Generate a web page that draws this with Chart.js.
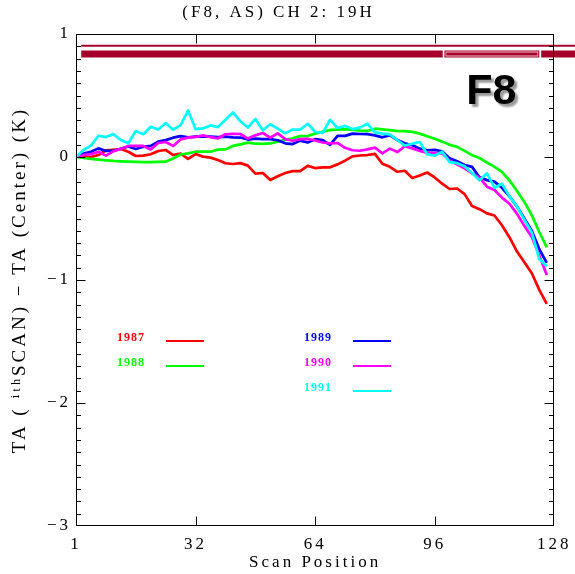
<!DOCTYPE html>
<html><head><meta charset="utf-8">
<script src="https://cdn.jsdelivr.net/npm/chart.js@4"></script>
<style>html,body{margin:0;padding:0;background:#fff;} canvas{display:block;}</style>
</head><body>
<canvas id="c" width="575" height="574"></canvas>
<script>
// ---- data ----
const scanPos = [0,2,4,6,8,10,12,14,16,18,20,22,24,26,28,30,32,34,36,38,40,42,44,46,48,50,52,54,56,58,60,62,
  64,66,68,70,72,74,76,78,80,82,84,86,88,90,92,94,96,98,100,102,104,106,108,110,112,114,116,118,120,122,124,126];
const ta1987 = [0,0.008,0,0.016,0.054,0.059,0.065,0.043,0.008,0.011,
  0.022,0.049,0.057,0.016,0.027,-0.016,0.024,0.003,-0.005,-0.024,
  -0.051,-0.057,-0.05,-0.07,-0.135,-0.13,-0.187,-0.157,-0.13,-0.115,
  -0.115,-0.072,-0.09,-0.084,-0.084,-0.06,-0.03,0.005,0.012,0.016,
  0.025,-0.055,-0.08,-0.12,-0.112,-0.17,-0.15,-0.126,-0.166,-0.217,
  -0.26,-0.256,-0.302,-0.398,-0.424,-0.458,-0.476,-0.555,-0.652,-0.767,
  -0.855,-0.945,-1.08,-1.195];
const ta1988 = [0,-0.008,-0.016,-0.022,-0.027,-0.032,-0.035,-0.038,-0.04,-0.041,
  -0.041,-0.04,-0.038,-0.012,0.02,0.03,0.043,0.043,0.043,0.06,
  0.062,0.09,0.103,0.117,0.108,0.107,0.11,0.125,0.14,0.152,
  0.17,0.17,0.19,0.205,0.22,0.222,0.226,0.22,0.214,0.212,
  0.23,0.224,0.218,0.21,0.21,0.204,0.19,0.168,0.148,0.125,
  0.1,0.082,0.05,0.015,-0.008,-0.045,-0.08,-0.12,-0.19,-0.275,
  -0.365,-0.475,-0.61,-0.734];
const ta1989 = [0,0.028,0.043,0.07,0.049,0.05,0.067,0.085,0.065,0.083,
  0.09,0.125,0.137,0.157,0.17,0.16,0.165,0.165,0.166,0.162,
  0.166,0.16,0.158,0.142,0.149,0.145,0.145,0.136,0.111,0.105,
  0.133,0.118,0.145,0.138,0.098,0.172,0.172,0.19,0.187,0.186,
  0.176,0.16,0.178,0.138,0.111,0.095,0.068,0.055,0.058,0.047,
  -0.011,-0.035,-0.065,-0.08,-0.165,-0.188,-0.2,-0.25,-0.32,-0.4,
  -0.5,-0.6,-0.75,-0.86];
const ta1990 = [0,0.016,0.023,0.043,0.011,0.046,0.066,0.09,0.09,0.09,
  0.061,0.114,0.122,0.09,0.143,0.157,0.163,0.176,0.161,0.152,
  0.185,0.189,0.187,0.15,0.176,0.195,0.157,0.192,0.145,0.132,
  0.145,0.147,0.134,0.118,0.111,0.114,0.075,0.055,0.051,0.062,
  0.076,0.03,0.068,0.04,0.087,0.07,0.049,0.034,0.032,0.03,
  -0.03,-0.06,-0.092,-0.133,-0.168,-0.241,-0.268,-0.33,-0.38,-0.46,
  -0.56,-0.65,-0.8,-0.96];
const ta1991 = [0,0.057,0.092,0.173,0.162,0.186,0.138,0.111,0.211,0.184,
  0.246,0.224,0.276,0.222,0.259,0.378,0.227,0.232,0.257,0.243,
  0.303,0.362,0.29,0.24,0.308,0.217,0.266,0.23,0.192,0.223,
  0.222,0.27,0.205,0.195,0.302,0.236,0.253,0.227,0.239,0.27,
  0.2,0.19,0.184,0.138,0.093,0.108,0.122,0.023,0.01,0.043,
  -0.042,-0.05,-0.075,-0.13,-0.19,-0.133,-0.25,-0.217,-0.32,-0.4,
  -0.51,-0.615,-0.83,-0.888];
const seriesLabels = ['1987','1988','1989','1990','1991'];
const seriesValues = [ta1987, ta1988, ta1989, ta1990, ta1991];
const seriesColors = ['#ff0000','#00ff00','#0000ff','#ff00ff','#00ffff'];

const xTickValues = [0,32,64,96,128];
const xTickLabels = ['1','32','64','96','128'];
const yTickValues = [-3,-2,-1,0,1];
const yTickLabels = ['\u22123','\u22122','\u22121','0','1'];

// coverage bars at top (scan-position extents)
const coverStart = [1.4, 98.6, 124.5];
const coverEnd   = [98.15, 124.0, 134];
const coverFull  = [true, false, true];
const coverLevel = 0.838;
const coverLineStart = 1.4, coverLineEnd = 134, coverLineLevel = 0.905;

// ---- build ----
const DARK = '#a5002a';
const SERIF = '"Liberation Serif", "DejaVu Serif", serif';
const datasets = [];
seriesLabels.forEach((lab, i) => {
  datasets.push({
    label: lab, isSeries: true,
    data: scanPos.map((x, j) => ({x, y: seriesValues[i][j]})),
    borderColor: seriesColors[i], backgroundColor: seriesColors[i],
    borderWidth: 2.7, pointRadius: 0, tension: 0, fill: false,
    order: 5 - i, borderJoinStyle: 'round'
  });
});
function barDs(x0, x1, lvl, w, col, ord) {
  return {label: 'coverage', data: [{x: x0, y: lvl}, {x: x1, y: lvl}], borderColor: col,
    borderWidth: w, pointRadius: 0, clip: false, borderCapStyle: 'butt', order: ord, fill: false};
}
datasets.push(barDs(coverLineStart, coverLineEnd, coverLineLevel, 2, DARK, 20));
coverStart.forEach((s, i) => {
  datasets.push(barDs(s, coverEnd[i], coverLevel, 7, DARK, 22));
  if (!coverFull[i]) {
    datasets.push(barDs(s + 0.3, coverEnd[i] - 0.3, coverLevel, 5, '#f3c6cf', 21));
    datasets.push(barDs(s + 0.5, coverEnd[i] - 0.5, coverLevel, 3, DARK, 20));
  }
});

const decor = {
  id: 'decor',
  beforeDraw(chart) {
    const c = chart.ctx;
    c.save(); c.fillStyle = '#fff'; c.fillRect(0, 0, chart.width, chart.height); c.restore();
    c.letterSpacing = '3px';
  },
  afterDatasetsDraw(chart) {
    const c = chart.ctx, a = chart.chartArea, xs = chart.scales.x, ys = chart.scales.y;
    c.save();
    c.strokeStyle = '#000'; c.lineWidth = 1;
    const L = Math.round(a.left) + 0.5, R = Math.round(a.right) - 0.5, T = Math.round(a.top) + 0.5, B = Math.round(a.bottom) - 0.5;
    c.strokeRect(L, T, R - L, B - T);
    c.beginPath();
    [32, 64, 96].forEach(v => {
      const px = Math.round(xs.getPixelForValue(v)) + 0.5;
      c.moveTo(px, B); c.lineTo(px, B - 9);
      c.moveTo(px, T); c.lineTo(px, T + 9);
    });
    for (let i = -29; i <= 9; i++) {
      const py = Math.round(ys.getPixelForValue(i / 10)) + 0.5;
      const len = (i % 10 === 0) ? 9 : 4.5;
      c.moveTo(L, py); c.lineTo(L + len, py);
      c.moveTo(R, py); c.lineTo(R - len, py);
    }
    c.stroke();
    c.restore();
  },
  afterDraw(chart) {
    const c = chart.ctx, a = chart.chartArea;
    c.save();
    c.letterSpacing = '1px';
    c.font = 'bold 12px ' + SERIF;
    c.textBaseline = 'middle'; c.textAlign = 'left';
    const slots = [[41, 303.5], [41, 328.5], [228, 303.5], [228, 328.5], [228, 353.5]];
    chart.data.datasets.filter(d => d.isSeries).forEach((d, i) => {
      const [tx, ty] = slots[i];
      c.fillStyle = d.borderColor;
      c.fillText(d.label, a.left + tx, a.top + ty);
      c.strokeStyle = d.borderColor; c.lineWidth = 2;
      c.beginPath(); c.moveTo(a.left + tx + 49, a.top + ty + 3.5); c.lineTo(a.left + tx + 87, a.top + ty + 3.5); c.stroke();
    });
    c.letterSpacing = '0px';
    c.font = 'bold 43px "Liberation Sans", Arial, sans-serif';
    c.textBaseline = 'alphabetic';
    c.shadowColor = 'rgba(0,0,0,0.4)'; c.shadowOffsetX = 3; c.shadowOffsetY = 3; c.shadowBlur = 2;
    c.fillStyle = '#000';
    c.fillText('F8', a.right - 88, a.top + 70);
    c.restore();
  }
};

new Chart(document.getElementById('c'), {
  type: 'line',
  data: {datasets},
  plugins: [decor],
  options: {
    responsive: false, animation: false, devicePixelRatio: 1, events: [],
    layout: {padding: {left: 0, right: 18, top: 0, bottom: 0}},
    plugins: {
      legend: {display: false}, tooltip: {enabled: false},
      title: {display: true, text: '(F8, AS) CH 2: 19H', color: '#000',
        font: {family: SERIF, size: 17, weight: 'normal'}, padding: {top: 2, bottom: 11.6}}
    },
    scales: {
      x: {
        type: 'linear', min: 0, max: 128,
        afterBuildTicks: s => { s.ticks = xTickValues.map(v => ({value: v})); },
        afterFit: s => { s.height = 48; },
        ticks: {callback: v => { const k = xTickValues.indexOf(v); return k < 0 ? '' : xTickLabels[k]; },
          color: '#000', font: {family: SERIF, size: 17}, padding: 8, maxRotation: 0, autoSkip: false},
        grid: {display: false, drawTicks: false}, border: {display: false},
        title: {display: true, text: 'Scan Position', color: '#000', font: {family: SERIF, size: 17}, padding: {top: 0, bottom: 1}}
      },
      y: {
        type: 'linear', min: -3, max: 1,
        afterBuildTicks: s => { s.ticks = yTickValues.map(v => ({value: v})); },
        afterFit: s => { s.width = 76; },
        ticks: {callback: v => { const k = yTickValues.indexOf(v); return k < 0 ? '' : yTickLabels[k]; },
          color: '#000', font: {family: SERIF, size: 17}, padding: 5, autoSkip: false},
        grid: {display: false, drawTicks: false}, border: {display: false},
        title: {display: true, text: 'TA ( \u2071\u1D57\u02B0SCAN) \u2212 TA (Center) (K)', color: '#000',
          font: {family: SERIF, size: 19}, padding: {top: 9, bottom: 0}}
      }
    }
  }
});
</script>
</body></html>
